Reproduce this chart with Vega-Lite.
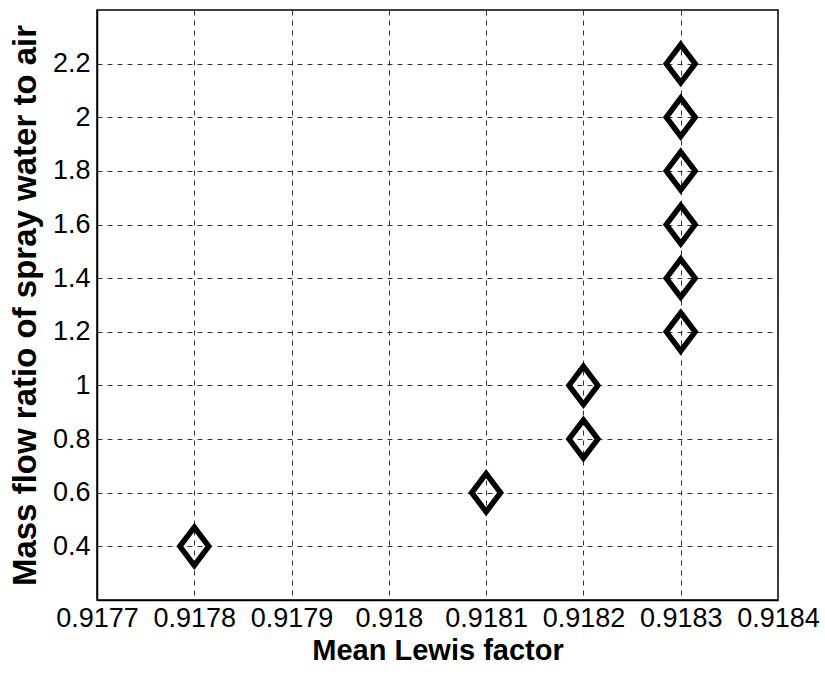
{
  "$schema": "https://vega.github.io/schema/vega-lite/v6.json",
  "autosize": "none",
  "width": 681,
  "height": 590,
  "padding": {"left": 97, "top": 10, "right": 47, "bottom": 75},
  "background": "white",
  "config": {
    "view": {"stroke": "black", "strokeWidth": 1.5},
    "font": "Liberation Sans"
  },
  "data": {
    "values": [
      {"lewis": 0.9178, "ratio": 0.4},
      {"lewis": 0.9181, "ratio": 0.6},
      {"lewis": 0.9182, "ratio": 0.8},
      {"lewis": 0.9182, "ratio": 1.0},
      {"lewis": 0.9183, "ratio": 1.2},
      {"lewis": 0.9183, "ratio": 1.4},
      {"lewis": 0.9183, "ratio": 1.6},
      {"lewis": 0.9183, "ratio": 1.8},
      {"lewis": 0.9183, "ratio": 2.0},
      {"lewis": 0.9183, "ratio": 2.2}
    ]
  },
  "mark": {
    "type": "point",
    "shape": "M0,-0.9L0.68,0L0,0.9L-0.68,0Z",
    "size": 1800,
    "filled": false,
    "fill": null,
    "stroke": "black",
    "strokeWidth": 5.5,
    "strokeJoin": "miter",
    "opacity": 1
  },
  "encoding": {
    "x": {
      "field": "lewis",
      "type": "quantitative",
      "scale": {"domain": [0.9177, 0.9184], "nice": false, "zero": false},
      "axis": {
        "title": "Mean Lewis factor",
        "values": [0.9177, 0.9178, 0.9179, 0.918, 0.9181, 0.9182, 0.9183, 0.9184],
        "format": ".4~f",
        "labelFontSize": 27,
        "labelColor": "black",
        "labelPadding": 5,
        "labelFlush": false,
        "labelOverlap": false,
        "ticks": false,
        "domainColor": "black",
        "domainWidth": 1.5,
        "grid": true,
        "gridColor": "#333",
        "gridDash": [5, 5],
        "gridWidth": 1,
        "gridOpacity": 1,
        "titleFontSize": 29,
        "titleFontWeight": "bold",
        "titleColor": "black",
        "titlePadding": 5
      }
    },
    "y": {
      "field": "ratio",
      "type": "quantitative",
      "scale": {"domain": [0.2, 2.4], "nice": false, "zero": false},
      "axis": {
        "title": "Mass flow ratio of spray water to air",
        "values": [0.4, 0.6, 0.8, 1.0, 1.2, 1.4, 1.6, 1.8, 2.0, 2.2],
        "format": "~g",
        "labelFontSize": 27,
        "labelColor": "black",
        "labelPadding": 7,
        "labelFlush": false,
        "labelOverlap": false,
        "ticks": false,
        "domainColor": "black",
        "domainWidth": 1.5,
        "grid": true,
        "gridColor": "#333",
        "gridDash": [5, 5],
        "gridWidth": 1,
        "gridOpacity": 1,
        "titleFontSize": 33,
        "titleFontWeight": "bold",
        "titleColor": "black",
        "titlePadding": 10
      }
    }
  }
}
